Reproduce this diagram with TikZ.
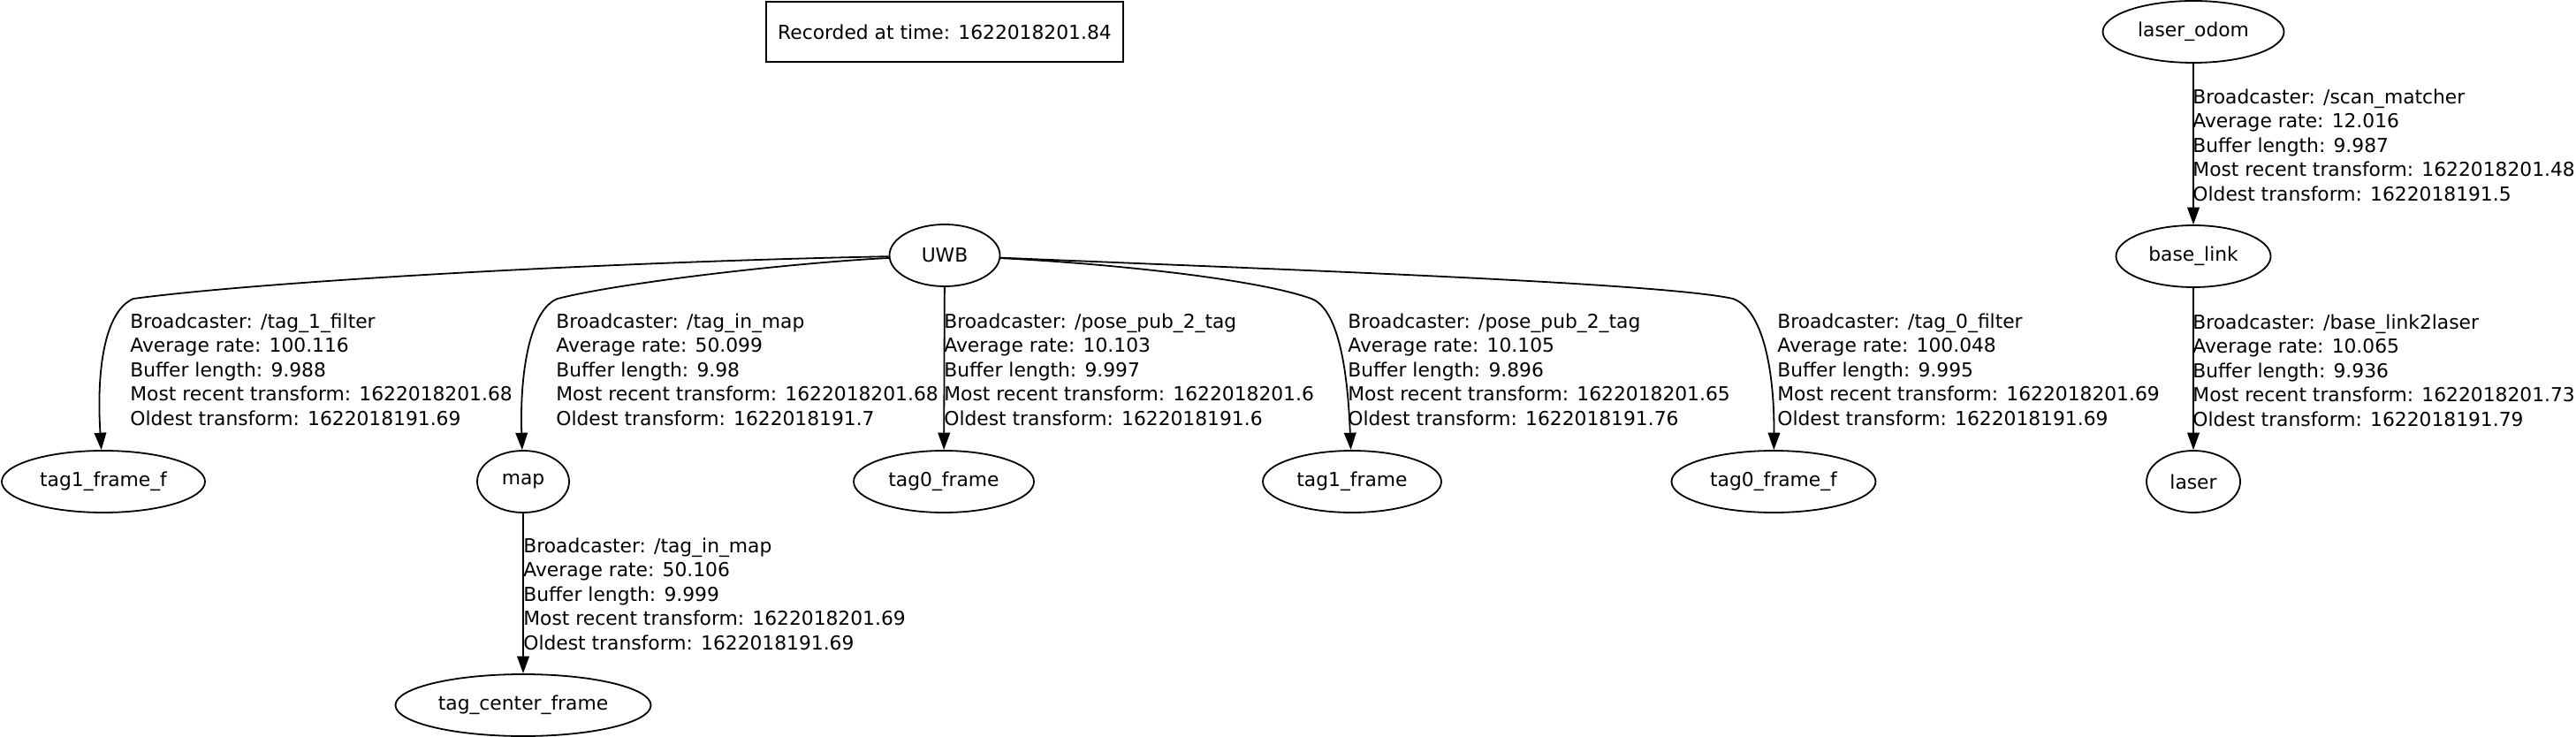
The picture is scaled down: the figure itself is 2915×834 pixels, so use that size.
\documentclass[tikz,border=0pt]{standalone}
\usepackage{fontspec}
\setmainfont{DejaVu Sans}
\usetikzlibrary{arrows.meta,shapes.geometric}
\begin{document}
\begin{tikzpicture}[x=0.5pt,y=-0.5pt,
  font=\fontsize{10.9}{13.75}\selectfont,
  frame/.style={draw, ellipse, line width=0.9pt, minimum height=35pt, inner sep=0pt},
  tf/.style={-{Triangle[length=9.7pt,width=6.8pt]}, line width=0.9pt},
  lbl/.style={align=left, anchor=west, inner sep=0pt}]
\useasboundingbox (0,0) rectangle (2915,834);

% recorded box
\node[draw, line width=0.9pt, minimum width=202pt, minimum height=34pt, inner sep=0pt] (rec) at (1069,36) {Recorded at time: 1622018201.84};

% frames
\node[frame, minimum width=62.5pt] (UWB) at (1069,289) {UWB};
\node[frame, minimum width=115pt] (tag1ff) at (117,545) {tag1\_frame\_f};
\node[frame, minimum width=52pt] (map) at (592,545) {map};
\node[frame, minimum width=102pt] (tag0f) at (1068,545) {tag0\_frame};
\node[frame, minimum width=101pt] (tag1f) at (1530,545) {tag1\_frame};
\node[frame, minimum width=115.5pt] (tag0ff) at (2007,545) {tag0\_frame\_f};
\node[frame, minimum width=144.5pt] (tcf) at (592,798) {tag\_center\_frame};
\node[frame, minimum width=102.5pt] (lodom) at (2482,36) {laser\_odom};
\node[frame, minimum width=87.5pt] (blink) at (2482,290) {base\_link};
\node[frame, minimum width=53pt] (laser) at (2482,545) {laser};

% edges
\draw[tf] (UWB) .. controls (700,296) and (300,318) .. (151,338)
  .. controls (118,352) and (109,420) .. (tag1ff);
\draw[tf] (UWB) .. controls (900,297) and (700,320) .. (631,338)
  .. controls (600,350) and (588,420) .. (map);
\draw[tf] (UWB) -- (tag0f);
\draw[tf] (UWB) .. controls (1250,298) and (1420,315) .. (1484,338)
  .. controls (1515,350) and (1525,420) .. (tag1f);
\draw[tf] (UWB) .. controls (1450,305) and (1880,320) .. (1961,338)
  .. controls (1995,350) and (2008,420) .. (tag0ff);
\draw[tf] (map) -- (tcf);
\draw[tf] (lodom) -- (blink);
\draw[tf] (blink) -- (laser);

% labels
\node[lbl] (l1) at (147,418) {Broadcaster: /tag\_1\_filter\\Average rate: 100.116\\Buffer length: 9.988\\Most recent transform: 1622018201.68\\Oldest transform: 1622018191.69};
\node[lbl] (l2) at (629,418) {Broadcaster: /tag\_in\_map\\Average rate: 50.099\\Buffer length: 9.98\\Most recent transform: 1622018201.68\\Oldest transform: 1622018191.7};
\node[lbl] (l3) at (1068,418) {Broadcaster: /pose\_pub\_2\_tag\\Average rate: 10.103\\Buffer length: 9.997\\Most recent transform: 1622018201.6\\Oldest transform: 1622018191.6};
\node[lbl] (l4) at (1525,418) {Broadcaster: /pose\_pub\_2\_tag\\Average rate: 10.105\\Buffer length: 9.896\\Most recent transform: 1622018201.65\\Oldest transform: 1622018191.76};
\node[lbl] (l5) at (2011,418) {Broadcaster: /tag\_0\_filter\\Average rate: 100.048\\Buffer length: 9.995\\Most recent transform: 1622018201.69\\Oldest transform: 1622018191.69};
\node[lbl] (l6) at (2481,164) {Broadcaster: /scan\_matcher\\Average rate: 12.016\\Buffer length: 9.987\\Most recent transform: 1622018201.48\\Oldest transform: 1622018191.5};
\node[lbl] (l7) at (2481,419) {Broadcaster: /base\_link2laser\\Average rate: 10.065\\Buffer length: 9.936\\Most recent transform: 1622018201.73\\Oldest transform: 1622018191.79};
\node[lbl] (l8) at (592,672) {Broadcaster: /tag\_in\_map\\Average rate: 50.106\\Buffer length: 9.999\\Most recent transform: 1622018201.69\\Oldest transform: 1622018191.69};
\end{tikzpicture}
\end{document}
